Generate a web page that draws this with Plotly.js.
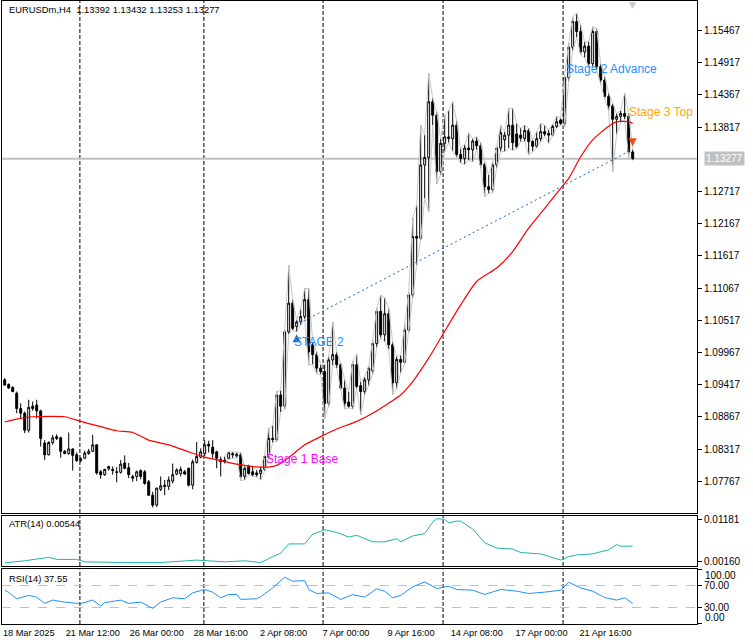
<!DOCTYPE html>
<html><head><meta charset="utf-8">
<script src="https://cdn.plot.ly/plotly-3.0.1.min.js"></script>
<style>html,body{margin:0;padding:0;background:#fff;}#chart{width:753px;height:644px;}</style>
</head><body><div id="chart"></div>
<script>
const symbolName = "EURUSDm,H4";
const openP = [1.0950,1.0942,1.0937,1.0927,1.0901,1.0893,1.0864,1.0905,1.0907,1.0897,
1.0842,1.0822,1.0843,1.0853,1.0851,1.0828,1.0824,1.0832,1.0822,1.0812,
1.0816,1.0824,1.0828,1.0839,1.0793,1.0788,1.0798,1.0797,1.0793,1.0792,
1.0808,1.0800,1.0785,1.0785,1.0795,1.0793,1.0776,1.0753,1.0736,1.0763,
1.0770,1.0768,1.0777,1.0789,1.0790,1.0793,1.0799,1.0770,1.0809,1.0818,
1.0824,1.0840,1.0835,1.0827,1.0814,1.0810,1.0816,1.0824,1.0820,1.0822,
1.0785,1.0802,1.0793,1.0791,1.0790,1.0797,1.0819,1.0850,1.0848,1.0924,
1.0905,1.1032,1.1081,1.1041,1.1049,1.1058,1.1087,1.1010,1.0993,1.0970,
1.0964,1.0910,1.0984,1.0993,1.0976,1.0936,1.0912,1.0905,1.0976,1.0940,
1.0930,1.0950,1.0965,1.1012,1.1067,1.1027,1.1063,1.1010,1.0945,1.0985,
1.0980,1.1035,1.1095,1.1195,1.1192,1.1317,1.1330,1.1425,1.1402,1.1306,
1.1354,1.1365,1.1362,1.1385,1.1335,1.1328,1.1346,1.1343,1.1358,1.1350,
1.1318,1.1280,1.1275,1.1317,1.1346,1.1360,1.1368,1.1385,1.1370,1.1368,
1.1362,1.1376,1.1357,1.1349,1.1362,1.1374,1.1371,1.1368,1.1383,1.1394,
1.1388,1.1466,1.1518,1.1562,1.1545,1.1510,1.1520,1.1490,1.1545,1.1485,
1.1462,1.1434,1.1418,1.1395,1.1400,1.1405,1.1400,1.13392];
const highP = [1.0953,1.0944,1.0939,1.0930,1.0910,1.0896,1.0916,1.0913,1.0916,1.0899,
1.0847,1.0845,1.0856,1.0857,1.0853,1.0830,1.0860,1.0833,1.0826,1.0818,
1.0829,1.0832,1.0856,1.0840,1.0796,1.0798,1.0803,1.0802,1.0801,1.0813,
1.0821,1.0808,1.0788,1.0795,1.0797,1.0796,1.0779,1.0759,1.0766,1.0785,
1.0779,1.0785,1.0807,1.0799,1.0802,1.0796,1.0800,1.0814,1.0844,1.0833,
1.0847,1.0846,1.0847,1.0829,1.0819,1.0819,1.0827,1.0827,1.0826,1.0826,
1.0802,1.0805,1.0802,1.0796,1.0802,1.0822,1.0867,1.0872,1.0930,1.0932,
1.1035,1.1146,1.1087,1.1052,1.1072,1.1106,1.1106,1.1015,1.0998,1.0976,
1.0976,1.0990,1.1049,1.0998,1.0979,1.0950,1.0930,1.0982,1.0993,1.0947,
1.0955,1.0973,1.1018,1.1072,1.1095,1.1090,1.1072,1.1015,1.0990,1.0992,
1.1045,1.1100,1.1226,1.1249,1.1385,1.1368,1.1474,1.1431,1.1408,1.1362,
1.1402,1.1410,1.1425,1.1392,1.1345,1.1352,1.1372,1.1362,1.1365,1.1355,
1.1322,1.1300,1.1322,1.1348,1.1385,1.1374,1.1414,1.1414,1.1388,1.1380,
1.1385,1.1380,1.1360,1.1374,1.1388,1.1385,1.1377,1.1387,1.1400,1.1397,
1.1470,1.1525,1.1570,1.1576,1.1556,1.1527,1.1528,1.1553,1.1550,1.1490,
1.1468,1.1440,1.1422,1.1405,1.1410,1.1440,1.1405,1.13432];
const lowP = [1.0940,1.0935,1.0929,1.0893,1.0884,1.0859,1.0860,1.0897,1.0884,1.0836,
1.0813,1.0821,1.0839,1.0847,1.0817,1.0823,1.0822,1.0795,1.0810,1.0809,
1.0815,1.0822,1.0827,1.0788,1.0781,1.0786,1.0795,1.0788,1.0775,1.0790,
1.0797,1.0782,1.0776,1.0777,1.0780,1.0771,1.0752,1.0732,1.0733,1.0760,
1.0753,1.0762,1.0773,1.0787,1.0785,1.0788,1.0768,1.0763,1.0807,1.0816,
1.0820,1.0826,1.0816,1.0799,1.0785,1.0807,1.0814,1.0816,1.0817,1.0778,
1.0779,1.0788,1.0785,1.0784,1.0779,1.0794,1.0816,1.0843,1.0845,1.0895,
1.0900,1.1028,1.1035,1.1032,1.1043,1.1054,1.0976,1.0976,1.0961,1.0959,
1.0884,1.0905,1.0975,1.0970,1.0933,1.0900,1.0902,1.0900,1.0935,1.0890,
1.0925,1.0940,1.0960,1.1005,1.1022,1.1015,1.1001,1.0925,1.0935,1.0962,
1.0978,1.1030,1.1090,1.1146,1.1189,1.1260,1.1237,1.1385,1.1285,1.1300,
1.1340,1.1355,1.1340,1.1330,1.1320,1.1318,1.1325,1.1322,1.1343,1.1312,
1.1263,1.1268,1.1270,1.1312,1.1340,1.1340,1.1346,1.1342,1.1345,1.1357,
1.1357,1.1334,1.1340,1.1346,1.1357,1.1366,1.1354,1.1366,1.1380,1.1385,
1.1383,1.1460,1.1512,1.1535,1.1505,1.1500,1.1485,1.1485,1.1480,1.1455,
1.1430,1.1410,1.1306,1.1370,1.1390,1.1395,1.1330,1.13253];
const closeP = [1.0941,1.0936,1.0930,1.0901,1.0893,1.0864,1.0903,1.0901,1.0897,1.0850,
1.0822,1.0843,1.0851,1.0850,1.0828,1.0824,1.0832,1.0821,1.0812,1.0815,
1.0825,1.0828,1.0839,1.0791,1.0788,1.0797,1.0802,1.0795,1.0792,1.0806,
1.0799,1.0788,1.0782,1.0793,1.0785,1.0773,1.0753,1.0736,1.0765,1.0769,
1.0768,1.0779,1.0788,1.0796,1.0797,1.0789,1.0770,1.0810,1.0819,1.0827,
1.0839,1.0837,1.0824,1.0816,1.0810,1.0813,1.0826,1.0822,1.0823,1.0785,
1.0799,1.0790,1.0788,1.0788,1.0796,1.0819,1.0850,1.0848,1.0924,1.0905,
1.1032,1.1081,1.1038,1.1049,1.1058,1.1087,1.0998,1.0993,1.0970,1.0964,
1.0910,1.0984,1.0993,1.0976,1.0936,1.0910,1.0905,1.0976,1.0939,1.0930,
1.0950,1.0970,1.1012,1.1067,1.1027,1.1063,1.1010,1.0945,1.0985,1.0980,
1.1035,1.1095,1.1195,1.1192,1.1317,1.1330,1.1425,1.1402,1.1306,1.1354,
1.1365,1.1362,1.1385,1.1335,1.1328,1.1346,1.1343,1.1358,1.1350,1.1318,
1.1280,1.1275,1.1317,1.1346,1.1372,1.1368,1.1385,1.1355,1.1348,1.1363,
1.1376,1.1357,1.1349,1.1362,1.1374,1.1370,1.1368,1.1383,1.1391,1.1388,
1.1466,1.1518,1.1562,1.1545,1.1510,1.1520,1.1490,1.1545,1.1485,1.1462,
1.1434,1.1418,1.1395,1.1400,1.1405,1.1400,1.13392,1.13277];

const maBar = [0,3,7,15,19,24,28,32,36,41,46,50,54,58,62,66,68,71,75,79,83,88,92,96,99,102,106,110,114,118,123,127,131,135,139,141,144,147,151,153,156,157];
const maVal = [1.0878,1.0883,1.0887,1.0887,1.0879,1.0870,1.0863,1.0860,1.0847,1.0839,1.0827,1.0818,1.0812,1.0806,1.0802,1.0801,1.0804,1.0817,1.0839,1.0853,1.0866,1.0879,1.0893,1.0910,1.0924,1.0947,1.0987,1.1033,1.1078,1.1118,1.1141,1.1169,1.1209,1.1243,1.1277,1.1294,1.1331,1.1360,1.1383,1.1391,1.1391,1.1388];

const atrBar = [0,5,11,13,18,20,30,39,48,55,60,64,67,69,71,75,77,80,83,86,88,92,95,98,99,102,105,107,108,110,111,113,114,117,120,123,127,129,134,139,141,143,147,149,151,153,154,157];
const atrVal = [0.00136,0.00186,0.00270,0.00220,0.00220,0.00161,0.00144,0.00144,0.00203,0.00161,0.00186,0.00144,0.00287,0.00370,0.00596,0.00596,0.00831,0.00940,0.00873,0.00764,0.00806,0.00647,0.00647,0.00722,0.00647,0.00789,0.00848,0.01124,0.01208,0.01191,0.01107,0.01149,0.01149,0.00957,0.00622,0.00496,0.00471,0.00387,0.00354,0.00203,0.00287,0.00328,0.00354,0.00412,0.00454,0.00580,0.00538,0.00544];

const rsiBar = [0,1,3,6,8,10,12,15,19,22,24,25,29,31,34,37,39,42,45,47,50,52,54,56,58,59,63,64,67,70,72,75,76,78,81,84,87,90,93,95,97,99,102,105,108,111,113,117,120,124,128,131,135,139,141,144,147,150,153,155,157];
const rsiVal = [62.0,58.0,46.3,52.4,49.3,37.8,43.9,40.2,37.2,43.9,33.0,39.0,43.9,37.8,40.2,28.7,40.2,48.1,46.3,57.2,63.3,58.4,48.1,54.2,54.2,45.1,46.3,49.9,66.3,85.7,78.4,79.6,63.3,56.0,57.2,45.1,53.8,49.3,64.5,60.2,48.1,52.4,68.1,77.2,65.1,69.3,63.3,62.0,54.2,63.3,60.2,56.0,58.4,62.0,76.6,66.3,60.2,48.5,43.9,48.1,37.55];

const trendBar = [73.8, 156];
const trendVal = [1.1047, 1.1340];
const buyBar = [73];
const buyVal = [1.1028];
const sellBar = [157];
const sellVal = [1.1349];
const envStart = 55;

const stageText = ["Stage 1 Base", "STAGE 2", "Stage 2 Advance", "Stage 3 Top"];
const stageBar = [64.9, 71.75, 139.8, 155.6];
const stagePrice = [1.0815, 1.1014, 1.1481, 1.1408];

const timeTickBar = [6, 22, 38, 54, 69.7, 85.3, 101.6, 118, 134.2, 150.2];
const timeTickText = ["18 Mar 2025","21 Mar 12:00","26 Mar 00:00","28 Mar 16:00","2 Apr 08:00","7 Apr 00:00","9 Apr 16:00","14 Apr 08:00","17 Apr 00:00","21 Apr 16:00"];
const gridBar = [18.8, 49.8, 79.6, 109.6, 139.6];
const priceTicks = [1.07767,1.08317,1.08867,1.09417,1.09967,1.10517,1.11067,1.11617,1.12167,1.12717,1.13817,1.14367,1.14917,1.15467];
const atrTicks = [0.00160, 0.01181];
const rsiTicks = [0, 30, 70, 100];
const rsiEdgeTicks = [100, 0];

// ---- build ----
const n = closeP.length;
const last = n - 1;
const barIdx = closeP.map((_, i) => i);
const FONT = "Liberation Sans, Arial, sans-serif";
const stageColor = ["#ff00ff", "#1e90ff", "#1e90ff", "#ffa500"];

const traces = [
  {type:"scatter", mode:"lines", x: barIdx.slice(envStart), y: highP.slice(envStart),
   line:{color:"#c8c8c8", width:1}, hoverinfo:"skip", xaxis:"x", yaxis:"y"},
  {type:"scatter", mode:"lines", x: barIdx.slice(envStart), y: lowP.slice(envStart),
   line:{color:"#c8c8c8", width:1}, hoverinfo:"skip", xaxis:"x", yaxis:"y"},
  {type:"candlestick", x: barIdx, open: openP, high: highP, low: lowP, close: closeP,
   increasing:{line:{color:"#000000", width:1}, fillcolor:"#ffffff"},
   decreasing:{line:{color:"#000000", width:1}, fillcolor:"#000000"},
   whiskerwidth:0, hoverinfo:"skip", xaxis:"x", yaxis:"y"},
  {type:"scatter", mode:"lines", x: maBar, y: maVal, line:{color:"#ff0000", width:1.2, shape:"spline", smoothing:0.6},
   hoverinfo:"skip", xaxis:"x", yaxis:"y"},
  {type:"scatter", mode:"lines", x: trendBar, y: trendVal, line:{color:"#1a66c2", width:1, dash:"2px,3px"},
   hoverinfo:"skip", xaxis:"x", yaxis:"y"},
  {type:"scatter", mode:"markers", x: buyBar, y: buyVal, marker:{symbol:"arrow-up", size:8, color:"#1a66c2"},
   hoverinfo:"skip", xaxis:"x", yaxis:"y"},
  {type:"scatter", mode:"markers", x: sellBar, y: sellVal, marker:{symbol:"arrow-down", size:8, color:"#f04a1a"},
   hoverinfo:"skip", xaxis:"x", yaxis:"y"},
  {type:"scatter", mode:"lines", x: atrBar, y: atrVal, line:{color:"#20b2aa", width:1},
   hoverinfo:"skip", xaxis:"x", yaxis:"y2"},
  {type:"scatter", mode:"lines", x: rsiBar, y: rsiVal, line:{color:"#1e90ff", width:1},
   hoverinfo:"skip", xaxis:"x", yaxis:"y3"}
];

const shapes = [];
["y domain","y2 domain","y3 domain"].forEach(yr => {
  gridBar.forEach(b => shapes.push({type:"line", xref:"x", yref:yr, x0:b, x1:b, y0:0, y1:1,
    line:{color:"#000000", width:1, dash:"4px,2px"}, layer:"below"}));
});
shapes.push({type:"line", xref:"paper", yref:"y", x0:0, x1:1, y0:closeP[last], y1:closeP[last],
  line:{color:"#c0c0c0", width:2}, layer:"below"});

const annotations = [
  {xref:"paper", yref:"paper", x:0.0072, y:0.9856, xanchor:"left", yanchor:"middle", showarrow:false,
   text: symbolName + "  " + [openP[last], highP[last], lowP[last], closeP[last]].map(v => v.toFixed(5)).join(" "),
   font:{family:FONT, size:9.4, color:"#000"}},
  {xref:"paper", yref:"paper", x:0.0072, y:0.1621, xanchor:"left", yanchor:"middle", showarrow:false,
   text: "ATR(14) " + atrVal[atrVal.length-1].toFixed(5), font:{family:FONT, size:9.4, color:"#000"}},
  {xref:"paper", yref:"paper", x:0.0072, y:0.0738, xanchor:"left", yanchor:"middle", showarrow:false,
   text: "RSI(14) " + rsiVal[rsiVal.length-1].toFixed(2), font:{family:FONT, size:9.4, color:"#000"}},
  {xref:"paper", yref:"y", x:1.0101, y:closeP[last], xanchor:"left", yanchor:"middle", showarrow:false,
   text: closeP[last].toFixed(5), bgcolor:"#c0c0c0", borderpad:1, font:{family:FONT, size:10, color:"#ffffff"}},
  {xref:"x", yref:"paper", x:last, y:0.9936, xanchor:"center", yanchor:"middle", showarrow:false,
   text:"▼", font:{family:"DejaVu Sans", size:9, color:"#c8c8c8"}}
];
// RSI edge labels sit inside the panel, as the terminal draws them
rsiEdgeTicks.forEach(v => annotations.push({xref:"paper", yref:"y3", x:1.0101, y:v,
  xanchor:"left", yanchor: v > 50 ? "top" : "bottom", showarrow:false, borderpad:0,
  text: v.toFixed(2), font:{family:FONT, size:10, color:"#000"}}));
stageText.forEach((t, i) => annotations.push({xref:"x", yref:"y", x:stageBar[i], y:stagePrice[i],
  xanchor:"left", yanchor:"middle", showarrow:false, text:t, font:{family:FONT, size:12, color:stageColor[i]}}));

const yCommon = {side:"right", anchor:"x", showgrid:false, zeroline:false, showline:true, mirror:true,
  linecolor:"#000", linewidth:1, ticks:"outside", ticklen:4, tickcolor:"#000", tickmode:"array",
  tickfont:{family:FONT, size:10, color:"#000"}, fixedrange:true, automargin:false};

const layout = {
  width:753, height:644, paper_bgcolor:"#ffffff", plot_bgcolor:"#ffffff",
  margin:{l:2, r:56, t:1, b:20}, showlegend:false, hovermode:false,
  xaxis:{domain:[0,1], anchor:"y3", range:[-0.675, 173.08], showgrid:false, zeroline:false,
    showline:true, linecolor:"#000", linewidth:1, mirror:"all", tickmode:"array",
    tickvals: timeTickBar, ticktext: timeTickText, ticks:"",
    tickfont:{family:FONT, size:9.2, color:"#000"}, rangeslider:{visible:false}, fixedrange:true, automargin:false},
  yaxis:Object.assign({}, yCommon, {domain:[0.1782,1], range:[1.07226,1.15971], tickvals:priceTicks, tickformat:".5f"}),
  yaxis2:Object.assign({}, yCommon, {domain:[0.0931,0.1738], range:[0.0006,0.0128], tickvals:atrTicks, tickformat:".5f"}),
  yaxis3:Object.assign({}, yCommon, {domain:[0,0.0875], range:[0,100], tickvals:rsiTicks,
    ticktext: rsiTicks.map(v => (v === 0 || v === 100) ? "" : v.toFixed(2)),
    showgrid:true, gridcolor:"#c0c0c0", gridwidth:1, griddash:"dash"}),
  shapes: shapes, annotations: annotations
};

Plotly.newPlot("chart", traces, layout, {staticPlot:true, displayModeBar:false});
</script>
</body></html>
